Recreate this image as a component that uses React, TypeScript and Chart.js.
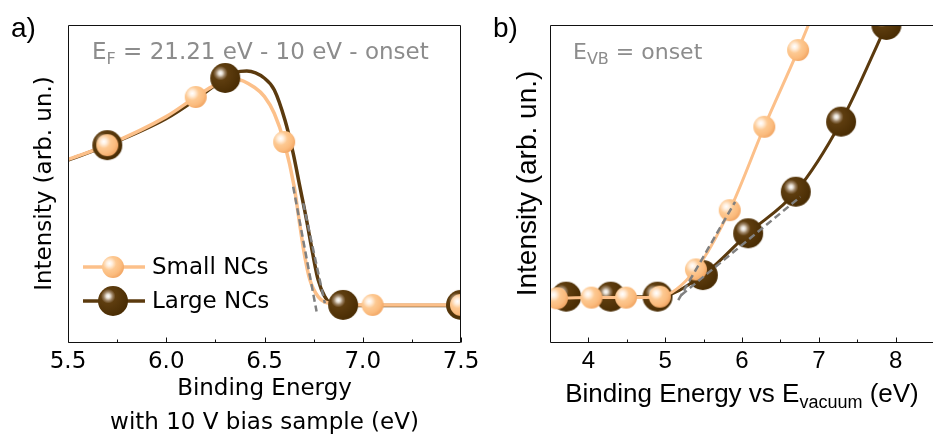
import React, { useEffect, useRef } from 'react';
import { Chart, registerables } from 'chart.js';

Chart.register(...registerables);

// ---------------- Panel a data ----------------
const aTickValues = [5.5, 6.0, 6.5, 7.0, 7.5];
const aTickLabels = ['5.5', '6.0', '6.5', '7.0', '7.5'];
const aMinorTicks = [5.75, 6.25, 6.75, 7.25];

const aSmallX = [5.7, 6.15, 6.6, 7.05, 7.5];
const aSmallY = [62.1, 77.3, 63.1, 11.7, 11.7];
const aLargeX = [5.7, 6.3, 6.9, 7.5];
const aLargeY = [62.1, 83.3, 11.7, 11.7];

const aSmallFitX = [5.5, 5.7, 6.0, 6.15, 6.25, 6.35, 6.45, 6.5, 6.55, 6.6, 6.651, 6.676, 6.702, 6.731, 6.773, 6.833, 7.0, 7.5];
const aSmallFitY = [57.6, 62.1, 71.1, 77.3, 81.1, 83.0, 80.3, 77.4, 72.1, 63.1, 49.0, 38.5, 28.0, 19.6, 14.3, 12.2, 11.7, 11.7];
const aLargeFitX = [5.5, 5.7, 6.0, 6.15, 6.3, 6.35, 6.41, 6.5, 6.55, 6.604, 6.646, 6.68, 6.714, 6.745, 6.773, 6.807, 6.85, 7.0, 7.5];
const aLargeFitY = [57.4, 62.0, 70.5, 76.5, 83.3, 85.0, 85.5, 83.2, 79.5, 70.0, 59.5, 49.0, 38.5, 28.0, 19.6, 14.3, 11.7, 11.5, 11.5];

const aOnsetSmallX = [6.646, 6.765];
const aOnsetSmallY = [49.0, 9.6];
const aOnsetLargeX = [6.697, 6.807];
const aOnsetLargeY = [43.8, 12.2];

// ---------------- Panel b data ----------------
const bTickValues = [4, 5, 6, 7, 8];
const bTickLabels = ['4', '5', '6', '7', '8'];
const bMinorTicks = [4.5, 5.5, 6.5, 7.5];

const bSmallX = [3.59, 4.04, 4.49, 4.93, 5.40, 5.84, 6.29, 6.73, 7.18];
const bSmallY = [13.8, 14.0, 14.0, 14.3, 22.9, 41.6, 67.9, 92.1, 119.0];
const bLargeX = [3.71, 4.29, 4.90, 5.49, 6.08, 6.70, 7.29, 7.88];
const bLargeY = [14.3, 14.3, 14.3, 21.1, 34.3, 47.4, 69.5, 100.0];

const bOnsetSmallX = [5.17, 5.91];
const bOnsetSmallY = [13.2, 44.2];
const bOnsetLargeX = [5.21, 6.76];
const bOnsetLargeY = [14.8, 45.8];

const seriesNames = ['Small NCs', 'Large NCs'];

// ---------------- styles ----------------
const LIGHT = '#fcc08a';
const DARK = '#5b3a0e';
const GRAY_TEXT = '#8c8c8c';
const DASH = '#808080';
const FONT_A = '"DejaVu Sans", sans-serif';
const FONT_B = '"Liberation Sans", Arial, sans-serif';

function makeSphere(r: number, kind: 'light' | 'dark') {
  const size = Math.ceil(2 * r) + 2;
  const c = document.createElement('canvas');
  c.width = size;
  c.height = size;
  const g = c.getContext('2d')!;
  const cx = size / 2, cy = size / 2;
  const hx = cx - 0.32 * r, hy = cy - 0.32 * r;
  const grad = g.createRadialGradient(hx, hy, 0, hx, hy, r * 1.35);
  if (kind === 'light') {
    grad.addColorStop(0, '#ffffff');
    grad.addColorStop(0.18, '#fff0e0');
    grad.addColorStop(0.45, '#fdc992');
    grad.addColorStop(0.8, '#fbbb7d');
    grad.addColorStop(1, '#f3aa69');
  } else {
    grad.addColorStop(0, '#ffffff');
    grad.addColorStop(0.1, '#e6dfd4');
    grad.addColorStop(0.22, '#9d8466');
    grad.addColorStop(0.36, '#5e3d0f');
    grad.addColorStop(1, '#4a2d04');
  }
  g.fillStyle = grad;
  g.beginPath();
  g.arc(cx, cy, r, 0, Math.PI * 2);
  g.fill();
  return c;
}

const pts = (xs: number[], ys: number[]) => xs.map((x, i) => ({ x, y: ys[i] }));

const lineDs = (xs: number[], ys: number[], color: string, width: number, order: number) => ({
  data: pts(xs, ys),
  borderColor: color,
  borderWidth: width,
  pointRadius: 0,
  cubicInterpolationMode: 'monotone',
  fill: false,
  clip: 0,
  order,
});
const markDs = (xs: number[], ys: number[], img: any, r: number, order: number) => ({
  data: pts(xs, ys),
  showLine: false,
  pointStyle: img,
  pointRadius: r,
  clip: 0,
  order,
});
const dashDs = (xs: number[], ys: number[], order: number) => ({
  data: pts(xs, ys),
  borderColor: DASH,
  borderWidth: 2.5,
  borderDash: [7, 4],
  pointRadius: 0,
  tension: 0,
  fill: false,
  clip: 0,
  order,
});

type Seg = { t: string; font: string; dy: number };
function drawRich(ctx: CanvasRenderingContext2D, segs: Seg[], x: number, y: number, center: boolean, color: string) {
  ctx.save();
  ctx.fillStyle = color;
  ctx.textBaseline = 'alphabetic';
  ctx.textAlign = 'left';
  let w = 0;
  for (const s of segs) { ctx.font = s.font; w += ctx.measureText(s.t).width; }
  let cx = center ? x - w / 2 : x;
  for (const s of segs) {
    ctx.font = s.font;
    ctx.fillText(s.t, cx, y + s.dy);
    cx += ctx.measureText(s.t).width;
  }
  ctx.restore();
}

function drawFrameAndTicks(chart: any, majors: number[], minors: number[]) {
  const { ctx, chartArea: ca, scales } = chart;
  const x = scales.x;
  ctx.save();
  ctx.strokeStyle = '#111';
  ctx.lineWidth = 1;
  const L = Math.round(ca.left) + 0.5, R = Math.round(ca.right) - 0.5;
  const T = Math.round(ca.top) + 0.5, B = Math.round(ca.bottom) + 0.5;
  ctx.beginPath();
  ctx.moveTo(L, T); ctx.lineTo(R, T); ctx.lineTo(R, B); ctx.lineTo(L, B); ctx.closePath();
  ctx.stroke();
  const tick = (v: number, len: number) => {
    const px = Math.round(x.getPixelForValue(v)) + 0.5;
    ctx.beginPath(); ctx.moveTo(px, B); ctx.lineTo(px, B - len); ctx.stroke();
  };
  majors.forEach((v) => tick(v, 5));
  minors.forEach((v) => tick(v, 3));
  ctx.restore();
}

function configA(light: any, dark: any, lightLeg: any, darkLeg: any): any {
  const plugin = {
    id: 'decorA',
    afterDatasetsDraw(chart: any) {
      drawFrameAndTicks(chart, aTickValues, aMinorTicks);
    },
    afterDraw(chart: any) {
      const ctx: CanvasRenderingContext2D = chart.ctx;
      drawRich(ctx, [{ t: 'a)', font: `28px ${FONT_B}`, dy: 0 }], 11, 37, false, '#000');
      drawRich(ctx, [
        { t: 'E', font: `23px ${FONT_A}`, dy: 0 },
        { t: 'F', font: `16px ${FONT_A}`, dy: 5 },
        { t: ' = 21.21 eV - 10 eV - onset', font: `23px ${FONT_A}`, dy: 0 },
      ], 92, 58.5, false, GRAY_TEXT);
      // legend
      const items = [
        { name: seriesNames[0], color: LIGHT, img: lightLeg, y: 267 },
        { name: seriesNames[1], color: DARK, img: darkLeg, y: 301 },
      ];
      ctx.save();
      for (const it of items) {
        ctx.strokeStyle = it.color;
        ctx.lineWidth = 3.5;
        ctx.beginPath(); ctx.moveTo(83, it.y); ctx.lineTo(145, it.y); ctx.stroke();
        ctx.drawImage(it.img, 113 - it.img.width / 2, it.y - it.img.height / 2);
        ctx.fillStyle = '#000';
        ctx.font = `23px ${FONT_A}`;
        ctx.textBaseline = 'middle';
        ctx.textAlign = 'left';
        ctx.fillText(it.name, 152, it.y + 1);
      }
      ctx.restore();
    },
  };
  return {
    type: 'line',
    data: {
      datasets: [
        lineDs(aLargeFitX, aLargeFitY, DARK, 3.5, 6),
        lineDs(aSmallFitX, aSmallFitY, LIGHT, 3.5, 5),
        markDs(aLargeX, aLargeY, dark, 15, 4),
        markDs(aSmallX, aSmallY, light, 11, 3),
        dashDs(aOnsetSmallX, aOnsetSmallY, 1),
        dashDs(aOnsetLargeX, aOnsetLargeY, 0),
      ],
    },
    options: {
      animation: false,
      responsive: false,
      events: [],
      layout: { padding: { top: 25, right: 19, left: 0, bottom: 0 } },
      plugins: { legend: { display: false }, tooltip: { enabled: false } },
      scales: {
        x: {
          type: 'linear',
          min: 5.5,
          max: 7.5,
          afterBuildTicks: (s: any) => { s.ticks = aTickValues.map((v) => ({ value: v })); },
          afterFit: (s: any) => { s.height = 93; s.paddingLeft = 0; s.paddingRight = 0; },
          grid: { display: false, drawTicks: false },
          border: { display: false },
          ticks: {
            autoSkip: false,
            maxRotation: 0,
            padding: 6,
            color: '#000',
            font: { family: FONT_A, size: 23 },
            callback: (_v: any, i: number) => aTickLabels[i],
          },
          title: {
            display: true,
            text: ['Binding Energy', 'with 10 V bias sample (eV)'],
            color: '#000',
            font: { family: FONT_A, size: 23, lineHeight: 34 / 23 },
            padding: { top: 0, bottom: -5 },
          },
        },
        y: {
          type: 'linear',
          min: 0,
          max: 100,
          afterFit: (s: any) => { s.width = 68; s.paddingTop = 0; s.paddingBottom = 0; },
          grid: { display: false, drawTicks: false },
          border: { display: false },
          ticks: { display: false },
          title: {
            display: true,
            text: 'Intensity (arb. un.)',
            color: '#000',
            font: { family: FONT_A, size: 23 },
            padding: { top: 31.2, bottom: 0 },
          },
        },
      },
    },
    plugins: [plugin],
  };
}

function configB(light: any, dark: any): any {
  const plugin = {
    id: 'decorB',
    afterDatasetsDraw(chart: any) {
      drawFrameAndTicks(chart, bTickValues, bMinorTicks);
    },
    afterDraw(chart: any) {
      const ctx: CanvasRenderingContext2D = chart.ctx;
      const ca = chart.chartArea;
      drawRich(ctx, [{ t: 'b)', font: `28px ${FONT_B}`, dy: 0 }], 23, 37, false, '#000');
      drawRich(ctx, [
        { t: 'E', font: `22px ${FONT_A}`, dy: 0 },
        { t: 'VB', font: `16px ${FONT_A}`, dy: 5 },
        { t: ' = onset', font: `22px ${FONT_A}`, dy: 0 },
      ], 103, 59, false, GRAY_TEXT);
      drawRich(ctx, [
        { t: 'Binding Energy vs E', font: `26px ${FONT_B}`, dy: 0 },
        { t: 'vacuum', font: `18px ${FONT_B}`, dy: 6.5 },
        { t: ' (eV)', font: `26px ${FONT_B}`, dy: 0 },
      ], (ca.left + ca.right) / 2, 401.7, true, '#000');
    },
  };
  return {
    type: 'line',
    data: {
      datasets: [
        lineDs(bLargeX, bLargeY, DARK, 3, 6),
        markDs(bLargeX, bLargeY, dark, 15, 5),
        lineDs(bSmallX, bSmallY, LIGHT, 3, 4),
        markDs(bSmallX, bSmallY, light, 11, 3),
        dashDs(bOnsetSmallX, bOnsetSmallY, 1),
        dashDs(bOnsetLargeX, bOnsetLargeY, 0),
      ],
    },
    options: {
      animation: false,
      responsive: false,
      events: [],
      layout: { padding: { top: 25, right: 7, left: 0, bottom: 0 } },
      plugins: { legend: { display: false }, tooltip: { enabled: false } },
      scales: {
        x: {
          type: 'linear',
          min: 3.5,
          max: 8.5,
          afterBuildTicks: (s: any) => { s.ticks = bTickValues.map((v) => ({ value: v })); },
          afterFit: (s: any) => { s.height = 93; s.paddingLeft = 0; s.paddingRight = 0; },
          grid: { display: false, drawTicks: false },
          border: { display: false },
          ticks: {
            autoSkip: false,
            maxRotation: 0,
            padding: 5,
            color: '#000',
            font: { family: FONT_B, size: 24 },
            callback: (_v: any, i: number) => bTickLabels[i],
          },
          title: { display: false },
        },
        y: {
          type: 'linear',
          min: 0,
          max: 100,
          afterFit: (s: any) => { s.width = 80; s.paddingTop = 0; s.paddingBottom = 0; },
          grid: { display: false, drawTicks: false },
          border: { display: false },
          ticks: { display: false },
          title: {
            display: true,
            text: 'Intensity (arb. un.)',
            color: '#000',
            font: { family: FONT_B, size: 28 },
            padding: { top: 41, bottom: 0 },
          },
        },
      },
    },
    plugins: [plugin],
  };
}

export default function App() {
  const refA = useRef<HTMLCanvasElement>(null);
  const refB = useRef<HTMLCanvasElement>(null);

  useEffect(() => {
    const light = makeSphere(11, 'light');
    const dark = makeSphere(15, 'dark');
    const lightLeg = makeSphere(11, 'light');
    const darkLeg = makeSphere(15, 'dark');
    const cb = new Chart(refB.current!, configB(light, dark));
    const ca = new Chart(refA.current!, configA(light, dark, lightLeg, darkLeg));
    return () => {
      ca.destroy();
      cb.destroy();
    };
  }, []);

  return (
    <div
      style={{
        position: 'fixed',
        left: 0,
        top: 0,
        width: 933,
        height: 435,
        overflow: 'hidden',
        background: '#fff',
      }}
    >
      <canvas
        ref={refB}
        width={480}
        height={435}
        style={{ position: 'absolute', left: 470, top: 0, width: 480, height: 435, display: 'block' }}
      />
      <canvas
        ref={refA}
        width={480}
        height={435}
        style={{ position: 'absolute', left: 0, top: 0, width: 480, height: 435, display: 'block' }}
      />
    </div>
  );
}
